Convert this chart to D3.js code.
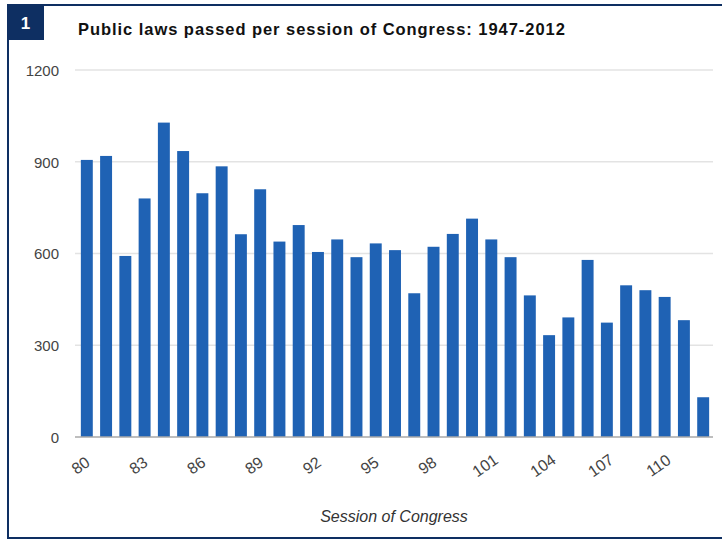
<!DOCTYPE html>
<html lang="en">
<head>
    <meta charset="UTF-8">
    <title>Public laws passed per session of Congress</title>
    <style type="text/css">
        body { margin: 0; background: #fff; }
        svg { display: block; font-family: "Liberation Sans", Arial, sans-serif; }
        .axis text { fill: #444; }
    </style>
</head>
<body>

<svg width="722" height="540"></svg>

<script src="https://d3js.org/d3.v7.min.js"></script>

<script>
    // sessions of Congress 80 .. 112
    var sessions = d3.range(80, 113);
    var laws = [906, 919, 592, 780, 1028, 935, 797, 885, 663, 810,
                639, 693, 605, 646, 588, 633, 611, 470, 622, 664,
                714, 646, 588, 463, 333, 391, 579, 374, 496, 480,
                458, 382, 130];
    var yTicks = [0, 300, 600, 900, 1200];
    var xTicks = [80, 83, 86, 89, 92, 95, 98, 101, 104, 107, 110];

    var svg = d3.select("svg"),
        margin = {top: 70, right: 9, bottom: 103, left: 77},
        width = +svg.attr("width") - margin.left - margin.right,
        height = +svg.attr("height") - margin.top - margin.bottom;

    var navy = "#0e2f62";

    // frame + number badge
    svg.append("rect").attr("x", 7).attr("y", 4).attr("width", 2).attr("height", 535).attr("fill", navy);
    svg.append("rect").attr("x", 7).attr("y", 4).attr("width", 715).attr("height", 2).attr("fill", navy);
    svg.append("rect").attr("x", 7).attr("y", 537).attr("width", 715).attr("height", 2).attr("fill", navy);
    svg.append("rect").attr("x", 7).attr("y", 4).attr("width", 37).attr("height", 36).attr("fill", navy);
    svg.append("text").attr("x", 25.5).attr("y", 29)
        .attr("text-anchor", "middle").attr("fill", "#fff")
        .style("font-size", "17px").style("font-weight", "bold").text("1");

    svg.append("text").attr("x", 78).attr("y", 35)
        .attr("fill", "#111")
        .style("font-size", "16.5px").style("font-weight", "bold")
        .style("letter-spacing", "0.95px")
        .text("Public laws passed per session of Congress: 1947-2012");

    var g = svg.append("g").attr("transform", "translate(" + margin.left + "," + margin.top + ")");

    var x = d3.scaleBand()
        .domain(sessions)
        .range([0, width])
        .paddingInner(0.38)
        .paddingOuter(0.2);

    var y = d3.scaleLinear()
        .domain([0, 1200])
        .range([height, 0]);

    // gridlines
    g.append("g")
        .selectAll("line")
        .data(yTicks.slice(1))
        .enter().append("line")
        .attr("x1", -2).attr("x2", width)
        .attr("y1", function (d) { return y(d); })
        .attr("y2", function (d) { return y(d); })
        .attr("stroke", "#e3e3e3")
        .attr("stroke-width", 1.5);

    // y axis labels
    var yAxis = g.append("g")
        .attr("class", "axis")
        .call(d3.axisLeft(y).tickValues(yTicks).tickFormat(d3.format("d")).tickSize(0).tickPadding(18));
    yAxis.select(".domain").remove();
    yAxis.selectAll("text").style("font-size", "15px").attr("dy", "0.35em");

    // bars
    g.selectAll(".bar")
        .data(laws)
        .enter().append("rect")
        .attr("class", "bar")
        .attr("x", function (d, i) { return x(sessions[i]); })
        .attr("y", function (d) { return y(d); })
        .attr("width", x.bandwidth())
        .attr("height", function (d) { return height - y(d); })
        .attr("fill", "#1f62b4");

    // baseline
    g.append("line")
        .attr("x1", -2).attr("x2", width)
        .attr("y1", height).attr("y2", height)
        .attr("stroke", "#a9a9a9")
        .attr("stroke-width", 1.5);

    // x axis
    var xAxis = g.append("g")
        .attr("class", "axis")
        .attr("transform", "translate(0," + height + ")")
        .call(d3.axisBottom(x).tickValues(xTicks).tickSize(0).tickPadding(0));
    xAxis.select(".domain").remove();
    xAxis.selectAll("text")
        .style("font-size", "16px")
        .attr("text-anchor", "middle")
        .attr("dy", 0)
        .attr("transform", "translate(-3,33) rotate(-35)");

    g.append("text")
        .attr("x", width / 2 - 1)
        .attr("y", height + 85)
        .attr("text-anchor", "middle")
        .attr("fill", "#333")
        .style("font-size", "16px")
        .style("font-style", "italic")
        .text("Session of Congress");
</script>

</body>
</html>
